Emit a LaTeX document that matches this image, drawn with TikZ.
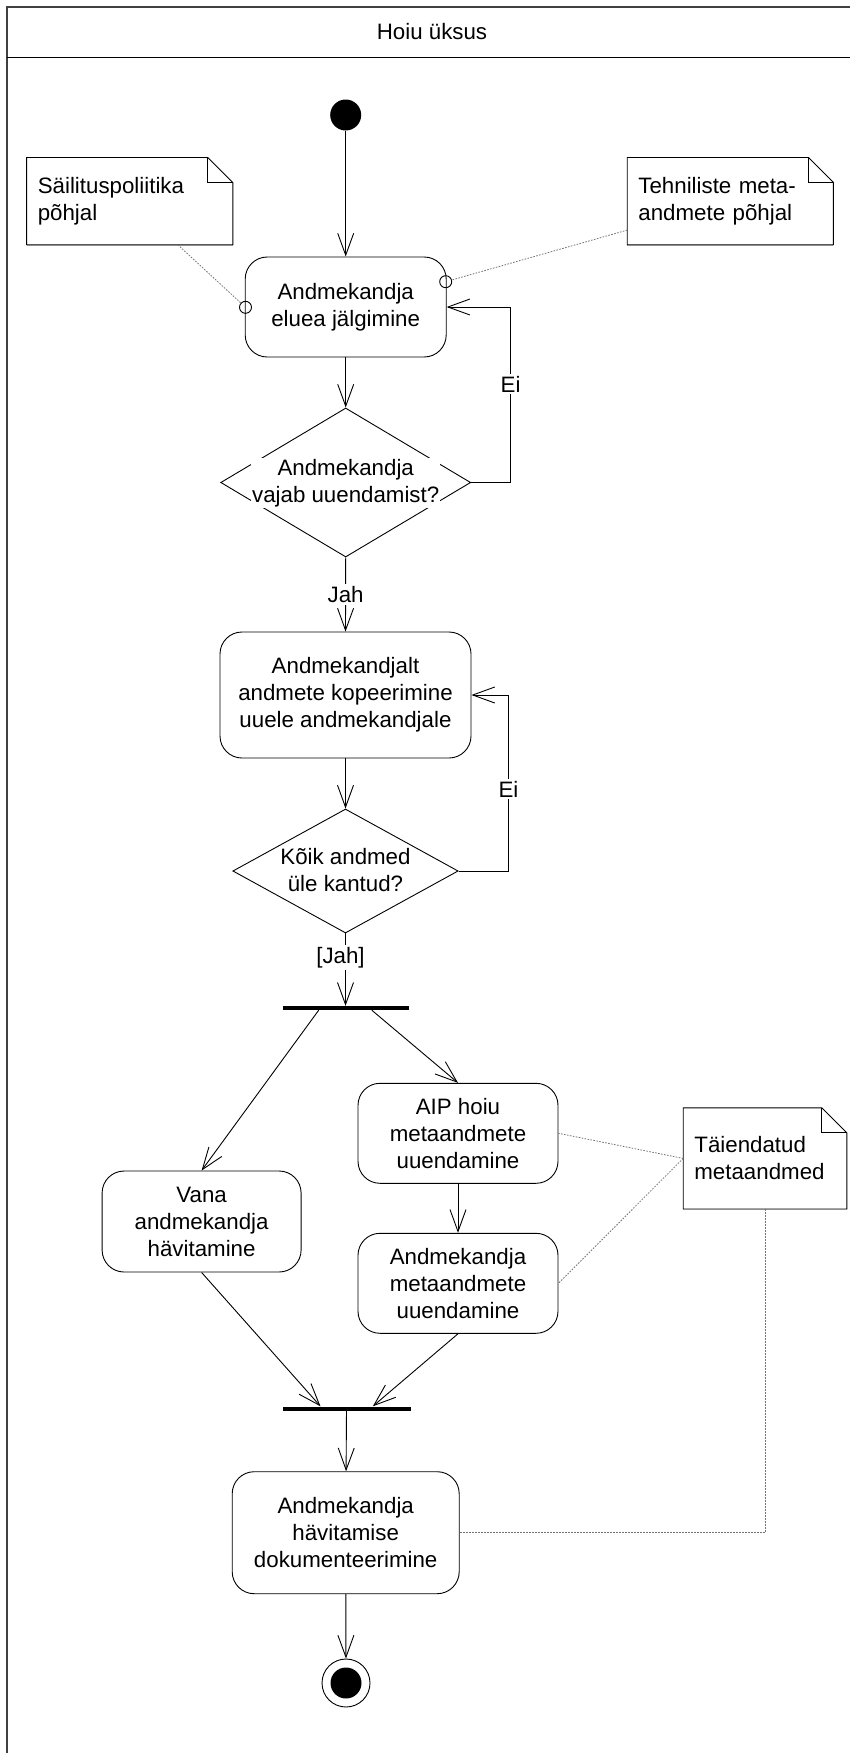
\documentclass[tikz,border=0pt]{standalone}
\usepackage{fontspec}
\setmainfont{Liberation Sans}
\usetikzlibrary{arrows.meta,shapes.geometric}
\begin{document}
\begin{tikzpicture}[x=1pt,y=-1pt,
  every node/.append style={font=\fontsize{22.3}{27}\selectfont},
  flow/.style={line width=0.9pt,-{Straight Barb[length=22pt,width=16pt]}},
  plain/.style={line width=0.9pt},
  activity/.style={draw,line width=0.9pt,rounded corners=22pt,align=center,inner sep=0pt},
  dec/.style={draw,diamond,line width=0.9pt,inner sep=0pt},
  declbl/.style={fill=white,inner sep=1pt,align=center},
  lbl/.style={fill=white,inner sep=2pt},
  bar/.style={rectangle,fill=black,inner sep=0pt,minimum height=4pt},
  note/.style={rectangle,align=left,inner xsep=11pt,inner ysep=0pt},
  noteline/.style={line width=0.9pt},
  dots/.style={black!55,line width=0.8pt,dash pattern=on 1.6pt off 1.4pt},
  port/.style={circle,draw,line width=0.9pt,inner sep=0pt,minimum size=12pt},
  frameline/.style={black!75,line width=2pt}]

\useasboundingbox (0,0) rectangle (850,1753);

% swimlane frame and header
\draw[frameline] (6.7,1753) -- (6.7,6.7) -- (850,6.7);
\draw[line width=1pt] (6.7,57.3) -- (850,57.3);
\node (title) at (432,32) {Hoiu üksus};

% initial and final states
\node[circle,fill=black,inner sep=0pt,minimum size=31pt] (start) at (345.7,115) {};
\node[circle,draw,line width=0.9pt,inner sep=0pt,minimum size=48pt,
      path picture={\fill (path picture bounding box.center) circle (15.5pt);}]
      (final) at (346,1683) {};

% activities
\node[activity,minimum width=201pt,minimum height=100pt] (b1) at (345.7,307)
  {Andmekandja\\eluea jälgimine};
\node[activity,minimum width=251pt,minimum height=126pt] (b2) at (345.5,695)
  {Andmekandjalt\\andmete kopeerimine\\uuele andmekandjale};
\node[activity,minimum width=200pt,minimum height=100pt] (aip) at (458,1133.3)
  {AIP hoiu\\metaandmete\\uuendamine};
\node[activity,minimum width=199pt,minimum height=101pt] (vana) at (201.6,1221.5)
  {Vana\\andmekandja\\hävitamine};
\node[activity,minimum width=200pt,minimum height=100pt] (meta) at (458,1283.3)
  {Andmekandja\\metaandmete\\uuendamine};
\node[activity,minimum width=227pt,minimum height=122pt] (dok) at (345.7,1532.7)
  {Andmekandja\\hävitamise\\dokumenteerimine};

% decisions
\node[dec,minimum width=250pt,minimum height=149pt] (d1) at (345.7,482.5) {};
\node[declbl] (d1t) at (345.7,483) {Andmekandja\\vajab uuendamist?};
\node[dec,minimum width=225.4pt,minimum height=124pt] (d2) at (345.5,871) {};
\node[declbl] (d2t) at (345.5,870) {Kõik andmed\\üle kantud?};

% fork and join bars
\node[bar,minimum width=126pt] (fork) at (345.5,1008) {};
\node[bar,minimum width=128pt] (join) at (346.5,1408.5) {};

% notes
\node[note,text width=183.8pt,minimum width=205.8pt,minimum height=86.8pt] (nS) at (129.7,201.1)
  {Säilituspoliitika\\põhjal};
\node[note,text width=183.8pt,minimum width=205.8pt,minimum height=86.8pt] (nT) at (730.3,201.1)
  {Tehniliste meta-\\andmete põhjal};
\node[note,text width=141.2pt,minimum width=163.2pt,minimum height=100.7pt] (nA) at (765,1158.4)
  {Täiendatud\\metaandmed};
\foreach \n in {nS,nT,nA} {
  \draw[noteline] (\n.north west) -- ([xshift=-25pt]\n.north east)
    -- ([yshift=-25pt]\n.north east) -- (\n.south east) -- (\n.south west) -- cycle;
  \draw[noteline] ([xshift=-25pt]\n.north east) |- ([yshift=-25pt]\n.north east);
  \draw[black!45,line width=1pt] ([yshift=-1pt]\n.south west) -- ([yshift=-1pt]\n.south east);
}

% ports where the notes attach to the first activity
\node[port] (c1) at (245.5,307.3) {};
\node[port] (c2) at (445.7,281.7) {};

% control flow
\draw[flow] (start) -- (b1);
\draw[flow] (b1) -- (d1);
\draw[flow] (d1.east) -- ++(39.5,0) |- node[lbl,pos=0.28] {Ei} (b1.east);
\draw[flow] (d1.south) -- node[lbl,pos=0.5] {Jah} (b2.north);
\draw[flow] (b2) -- (d2);
\draw[flow] (d2.east) -- ++(49.8,0) |- node[lbl,pos=0.233] {Ei} (b2.east);
\draw[flow] (d2.south) -- node[lbl,pos=0.33,xshift=-5pt] {[Jah]} (fork.north);
\draw[flow] ([xshift=-26.8pt]fork.south) -- (vana.north);
\draw[flow] ([xshift=26.3pt]fork.south) -- (aip.north);
\draw[flow] (aip) -- (meta);
\draw[flow] (vana.south) -- ([xshift=-26pt]join.north);
\draw[flow] (meta.south) -- ([xshift=26.3pt]join.north);
\draw[flow] (join) -- (dok);
\draw[flow] (dok) -- (final);

% note anchors
\draw[dots] ([xshift=48pt]nS.south) -- (c1);
\draw[dots] ([yshift=-29pt]nT.west) -- (c2);
\draw[dots] (nA.west) -- (aip.east);
\draw[dots] (nA.west) -- (meta.east);
\draw[dots] (nA.south) |- (dok.east);
\end{tikzpicture}
\end{document}
